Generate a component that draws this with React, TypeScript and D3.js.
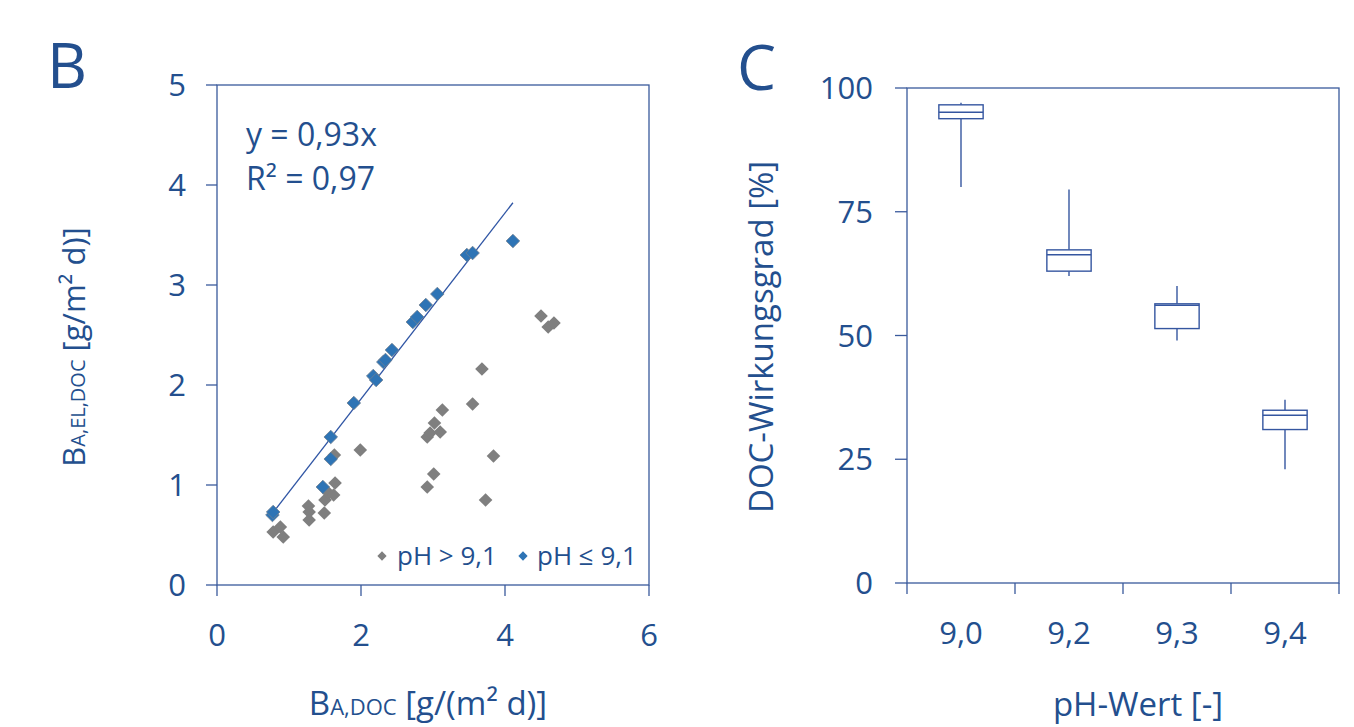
import React from "react";
import * as d3 from "d3";

// scatter data (B): pH <= 9,1 (blue) and pH > 9,1 (grey)
const blueX = [0.77, 0.78, 1.47, 1.58, 1.58, 1.9, 2.17, 2.21, 2.31, 2.34, 2.43, 2.72, 2.78, 2.9, 3.06, 3.47, 3.55, 4.11];
const blueY = [0.7, 0.73, 0.98, 1.26, 1.48, 1.82, 2.09, 2.05, 2.23, 2.25, 2.35, 2.63, 2.68, 2.8, 2.91, 3.3, 3.32, 3.44];
const greyX = [0.78, 0.88, 0.92, 1.27, 1.28, 1.28, 1.49, 1.5, 1.55, 1.62, 1.64, 1.63, 1.99, 2.92, 2.92, 2.96, 3.01, 3.02, 3.1, 3.13, 3.55, 3.68, 3.73, 3.84, 4.5, 4.6, 4.68];
const greyY = [0.53, 0.58, 0.48, 0.79, 0.73, 0.65, 0.72, 0.85, 0.92, 0.9, 1.02, 1.3, 1.35, 0.98, 1.48, 1.52, 1.11, 1.62, 1.53, 1.75, 1.81, 2.16, 0.85, 1.29, 2.69, 2.58, 2.62];
const slope = 0.93;
const scatterTicksX = [0, 2, 4, 6];
const scatterTicksY = [0, 1, 2, 3, 4, 5];

// box plot data (C)
const phLabels = ["9,0", "9,2", "9,3", "9,4"];
const whiskerLow = [80, 62, 49, 23];
const boxLow = [93.8, 63, 51.4, 31];
const medians = [95.1, 66.3, 56.1, 33.9];
const boxHigh = [96.6, 67.3, 56.4, 34.9];
const whiskerHigh = [97, 79.5, 60, 37];
const boxTicksY = [0, 25, 50, 75, 100];

const TEXT = "#234f8e";
const AXIS = "#3a5a9c";
const FONT = "'Open Sans', sans-serif";
const TICK_FS = 31;

const diamond = d3.symbol().type(d3.symbolDiamond2);

export default function App() {
  // panel B scales
  const bx = d3.scaleLinear().domain([0, 6]).range([217, 649]);
  const by = d3.scaleLinear().domain([0, 5]).range([585, 85]);
  // panel C scales
  const cx = d3.scaleBand().domain(phLabels).range([907, 1339]);
  const cy = d3.scaleLinear().domain([0, 100]).range([583, 88]);

  const fitX = [d3.min(blueX) as number, d3.max(blueX) as number];
  const fitLine = d3
    .line<number>()
    .x((d) => bx(d))
    .y((d) => by(d * slope))(fitX);

  const bigMarker = diamond.size(118)() as string;
  const smallMarker = diamond.size(55)() as string;

  const boxW = cx.bandwidth() * 0.41;

  return (
    <svg
      width={1354}
      height={727}
      style={{ position: "absolute", left: 0, top: 0, background: "#fff" }}
      fontFamily={FONT}
    >
      {/* ---------- panel B ---------- */}
      <text x={47} y={88} fontSize={62} fill={TEXT}>B</text>

      <rect x={217} y={85} width={432} height={500} fill="none" stroke={AXIS} strokeWidth={1.3} />
      {scatterTicksY.map((t) => (
        <g key={"by" + t}>
          <line x1={206} x2={217} y1={by(t)} y2={by(t)} stroke={AXIS} strokeWidth={1.3} />
          <text x={186} y={by(t)} dy="0.36em" textAnchor="end" fontSize={TICK_FS} fill={TEXT}>{t}</text>
        </g>
      ))}
      {scatterTicksX.map((t) => (
        <g key={"bx" + t}>
          <line x1={bx(t)} x2={bx(t)} y1={585} y2={596} stroke={AXIS} strokeWidth={1.3} />
          <text x={bx(t)} y={635} dy="0.36em" textAnchor="middle" fontSize={TICK_FS} fill={TEXT}>{t}</text>
        </g>
      ))}

      {greyX.map((x, i) => (
        <path key={"g" + i} d={bigMarker} transform={`translate(${bx(x)},${by(greyY[i])})`} fill="#7f7f7f" />
      ))}
      <path d={fitLine as string} stroke="#2f55a4" strokeWidth={1.3} fill="none" />
      {blueX.map((x, i) => (
        <path
          key={"b" + i}
          d={bigMarker}
          transform={`translate(${bx(x)},${by(blueY[i])})`}
          fill="#2e74b5"
          stroke="#6f7f90"
          strokeWidth={0.8}
        />
      ))}

      <text x={246} y={146} fontSize={32} fill={TEXT}>y = 0,93x</text>
      <text x={246} y={190} fontSize={32} fill={TEXT}>R² = 0,97</text>

      <path d={smallMarker} transform="translate(382,556)" fill="#7f7f7f" />
      <text x={397} y={565} fontSize={26} fill={TEXT}>pH &gt; 9,1</text>
      <path d={smallMarker} transform="translate(523,556)" fill="#2e74b5" />
      <text x={537} y={565} fontSize={26} fill={TEXT}>pH ≤ 9,1</text>

      <text transform="translate(85,347) rotate(-90)" textAnchor="middle" fill={TEXT} fontSize={31}>
        B<tspan fontSize={20}>A,EL,DOC</tspan> [g/m² d)]
      </text>
      <text x={428} y={715} textAnchor="middle" fill={TEXT} fontSize={33}>
        B<tspan fontSize={22}>A,DOC</tspan> [g/(m² d)]
      </text>

      {/* ---------- panel C ---------- */}
      <text x={737} y={90} fontSize={62} fill={TEXT}>C</text>

      <rect x={907} y={88} width={432} height={495} fill="none" stroke={AXIS} strokeWidth={1.3} />
      {boxTicksY.map((t) => (
        <g key={"cy" + t}>
          <line x1={895} x2={907} y1={cy(t)} y2={cy(t)} stroke={AXIS} strokeWidth={1.3} />
          <text x={873} y={cy(t)} dy="0.36em" textAnchor="end" fontSize={TICK_FS} fill={TEXT}>{t}</text>
        </g>
      ))}
      {[907, ...phLabels.map((p) => (cx(p) as number) + cx.bandwidth())].map((x, i) => (
        <line key={"cxt" + i} x1={x} x2={x} y1={583} y2={594} stroke={AXIS} strokeWidth={1.3} />
      ))}
      {phLabels.map((p) => (
        <text
          key={"cl" + p}
          x={(cx(p) as number) + cx.bandwidth() / 2}
          y={633}
          dy="0.36em"
          textAnchor="middle"
          fontSize={TICK_FS}
          fill={TEXT}
        >
          {p}
        </text>
      ))}

      {phLabels.map((p, i) => {
        const c = (cx(p) as number) + cx.bandwidth() / 2;
        return (
          <g key={"box" + p} stroke="#3556a0" strokeWidth={1.4} fill="none">
            <line x1={c} x2={c} y1={cy(whiskerHigh[i])} y2={cy(boxHigh[i])} />
            <line x1={c} x2={c} y1={cy(boxLow[i])} y2={cy(whiskerLow[i])} />
            <rect
              x={c - boxW / 2}
              y={cy(boxHigh[i])}
              width={boxW}
              height={cy(boxLow[i]) - cy(boxHigh[i])}
              fill="#fff"
            />
            <line x1={c - boxW / 2} x2={c + boxW / 2} y1={cy(medians[i])} y2={cy(medians[i])} />
          </g>
        );
      })}

      <text transform="translate(773,337) rotate(-90)" textAnchor="middle" fill={TEXT} fontSize={33}>
        DOC-Wirkungsgrad [%]
      </text>
      <text x={1138} y={716} textAnchor="middle" fill={TEXT} fontSize={33}>
        pH-Wert [-]
      </text>
    </svg>
  );
}
